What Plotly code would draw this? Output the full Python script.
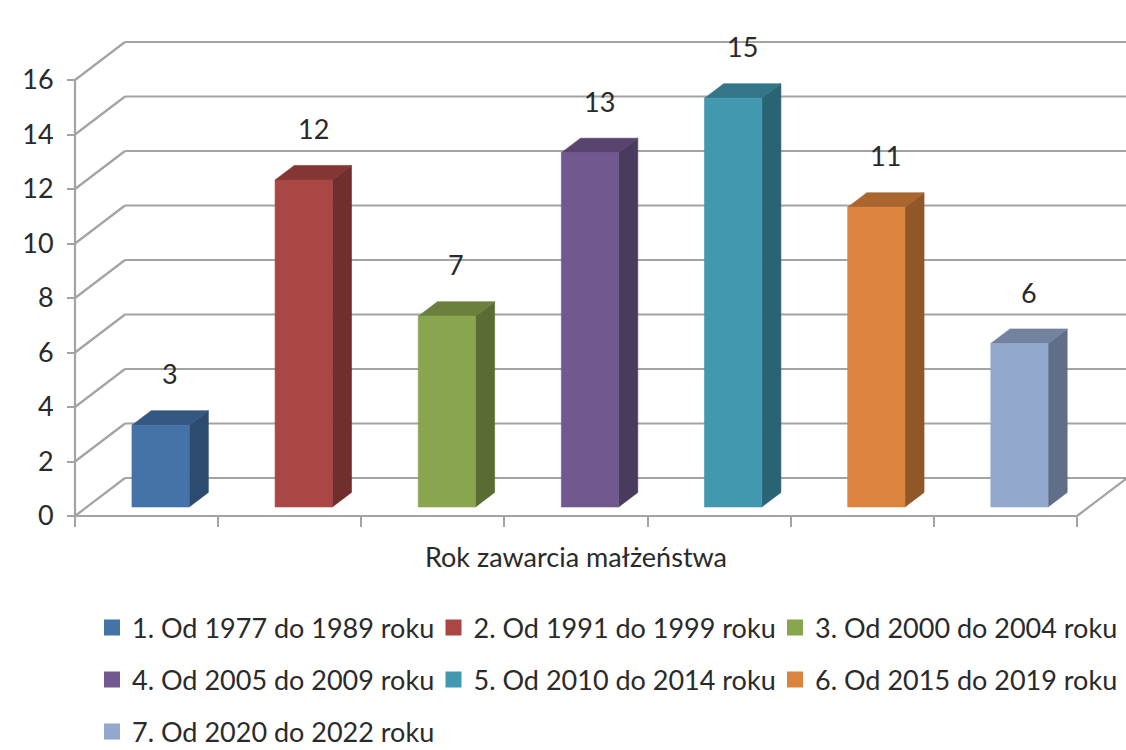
import plotly.graph_objects as go

# ---------------- data ----------------
categories = [
    "1. Od 1977 do 1989 roku",
    "2. Od 1991 do 1999 roku",
    "3. Od 2000 do 2004 roku",
    "4. Od 2005 do 2009 roku",
    "5. Od 2010 do 2014 roku",
    "6. Od 2015 do 2019 roku",
    "7. Od 2020 do 2022 roku",
]
values = [3, 12, 7, 13, 15, 11, 6]
y_ticks = [0, 2, 4, 6, 8, 10, 12, 14, 16]
axis_title = "Rok zawarcia małżeństwa"

# ---------------- style ----------------
colors = ["#4572A7", "#AA4643", "#89A54E", "#71588F", "#4198AF", "#DB843D", "#92A8CD"]
FONT = "Lato"
FSIZE = 27
TEXT_COLOR = "#2A2A2A"
GRID_COLOR = "#A3A3A3"
GRID_W = 2.2

W, H = 1126, 750
X0_PX, XN_PX = 75, 1077      # front x-axis extent in pixels
Y0_PX, YT_PX = 516, 80       # front y-axis: 0 and max tick
DEPTH_PX = (50, 38)          # oblique depth of the 3D box
BAR_OFF, BAR_W = 0.315, 0.40  # bar position within category (fraction)
F1, F2 = 0.237, 0.62          # bar front / back depth fraction

n = len(categories)
ymax = max(y_ticks)
px_x = (XN_PX - X0_PX) / n
px_y = (Y0_PX - YT_PX) / ymax
x_range = [-X0_PX / px_x, (W - X0_PX) / px_x]
y_range = [-(H - Y0_PX) / px_y, Y0_PX / px_y]
DX = DEPTH_PX[0] / px_x
DY = DEPTH_PX[1] / px_y


def proj(x, y, f):
    return x + f * DX, y + f * DY


def darken(hexc, k):
    hexc = hexc.lstrip("#")
    r, g, b = (int(hexc[i:i + 2], 16) for i in (0, 2, 4))
    return "#%02X%02X%02X" % (int(r * k), int(g * k), int(b * k))


fig = go.Figure()


def add_lines(segments, color=GRID_COLOR, width=GRID_W):
    xs, ys = [], []
    for (a, b) in segments:
        xs += [a[0], b[0], None]
        ys += [a[1], b[1], None]
    fig.add_trace(go.Scatter(x=xs, y=ys, mode="lines", line=dict(color=color, width=width),
                             hoverinfo="skip", showlegend=False))


# back wall gridlines
add_lines([(proj(0, v, 1), proj(n, v, 1)) for v in y_ticks])
# left side wall lines
add_lines([(proj(0, v, 0), proj(0, v, 1)) for v in y_ticks])
# floor right edge
add_lines([(proj(n, 0, 0), proj(n, 0, 1))])


def add_face(pts, color):
    xs = [p[0] for p in pts] + [pts[0][0]]
    ys = [p[1] for p in pts] + [pts[0][1]]
    fig.add_trace(go.Scatter(x=xs, y=ys, mode="lines", fill="toself", fillcolor=color,
                             line=dict(color=color, width=0.6), hoverinfo="skip",
                             showlegend=False))


annotations = []
for i, (v, c) in enumerate(zip(values, colors)):
    xl = i + BAR_OFF
    xr = xl + BAR_W
    side = [proj(xr, 0, F1), proj(xr, 0, F2), proj(xr, v, F2), proj(xr, v, F1)]
    top = [proj(xl, v, F1), proj(xr, v, F1), proj(xr, v, F2), proj(xl, v, F2)]
    front = [proj(xl, 0, F1), proj(xr, 0, F1), proj(xr, v, F1), proj(xl, v, F1)]
    add_face(side, darken(c, 0.66))
    add_face(top, darken(c, 0.78))
    add_face(front, c)
    lx, ly = proj((xl + xr) / 2, v, (F1 + F2) / 2)
    annotations.append(dict(x=lx, y=ly, xref="x", yref="y", text=str(v), showarrow=False,
                            yanchor="middle", yshift=44,
                            font=dict(family=FONT, size=FSIZE, color=TEXT_COLOR)))

# front axes lines
add_lines([((0, 0), (n, 0)), ((0, 0), (0, ymax))])

# axis title
annotations.append(dict(x=n / 2, y=0, xref="x", yref="y", text=axis_title, showarrow=False,
                        yanchor="middle", yshift=-40,
                        font=dict(family=FONT, size=FSIZE, color=TEXT_COLOR)))

# legend entries (one legend per entry, laid out in a 3-column grid)
LEG_X0, LEG_PITCH_X = 92, 341.5
LEG_Y0, LEG_PITCH_Y = 628, 52
legends = {}
for i, (name, c) in enumerate(zip(categories, colors)):
    key = "legend" if i == 0 else "legend%d" % (i + 1)
    fig.add_trace(go.Scatter(x=[None], y=[None], mode="markers", name=name,
                             marker=dict(symbol="square", size=16, color=c),
                             legend=key, showlegend=True))
    row, col = divmod(i, 3)
    legends[key] = dict(x=(LEG_X0 + col * LEG_PITCH_X) / W,
                        y=1 - (LEG_Y0 + row * LEG_PITCH_Y) / H,
                        xref="container", yref="container",
                        xanchor="left", yanchor="middle", orientation="h",
                        bgcolor="rgba(0,0,0,0)", borderwidth=0,
                        font=dict(family=FONT, size=FSIZE, color=TEXT_COLOR),
                        itemclick=False, itemdoubleclick=False)

fig.update_layout(
    width=W, height=H,
    margin=dict(l=0, r=0, t=0, b=0, autoexpand=False),
    paper_bgcolor="white", plot_bgcolor="white",
    font=dict(family=FONT, size=FSIZE, color=TEXT_COLOR),
    annotations=annotations,
    xaxis=dict(range=x_range, domain=[0, 1], anchor="free", position=1 - Y0_PX / H,
               tickvals=list(range(n + 1)), showticklabels=False, ticks="outside",
               ticklen=10, tickwidth=GRID_W, tickcolor=GRID_COLOR,
               showgrid=False, zeroline=False, showline=False, fixedrange=True),
    yaxis=dict(range=y_range, domain=[0, 1], anchor="free", position=X0_PX / W,
               tickvals=y_ticks, ticks="outside", ticklen=8, tickwidth=GRID_W,
               tickcolor=GRID_COLOR, ticklabelstandoff=8,
               tickfont=dict(family=FONT, size=FSIZE, color=TEXT_COLOR),
               showgrid=False, zeroline=False, showline=False, fixedrange=True),
    **legends,
)

fig.write_html(
    "out.html",
    config={"displayModeBar": False},
    post_script="document.body.style.margin='0';document.body.style.overflow='hidden';",
)
